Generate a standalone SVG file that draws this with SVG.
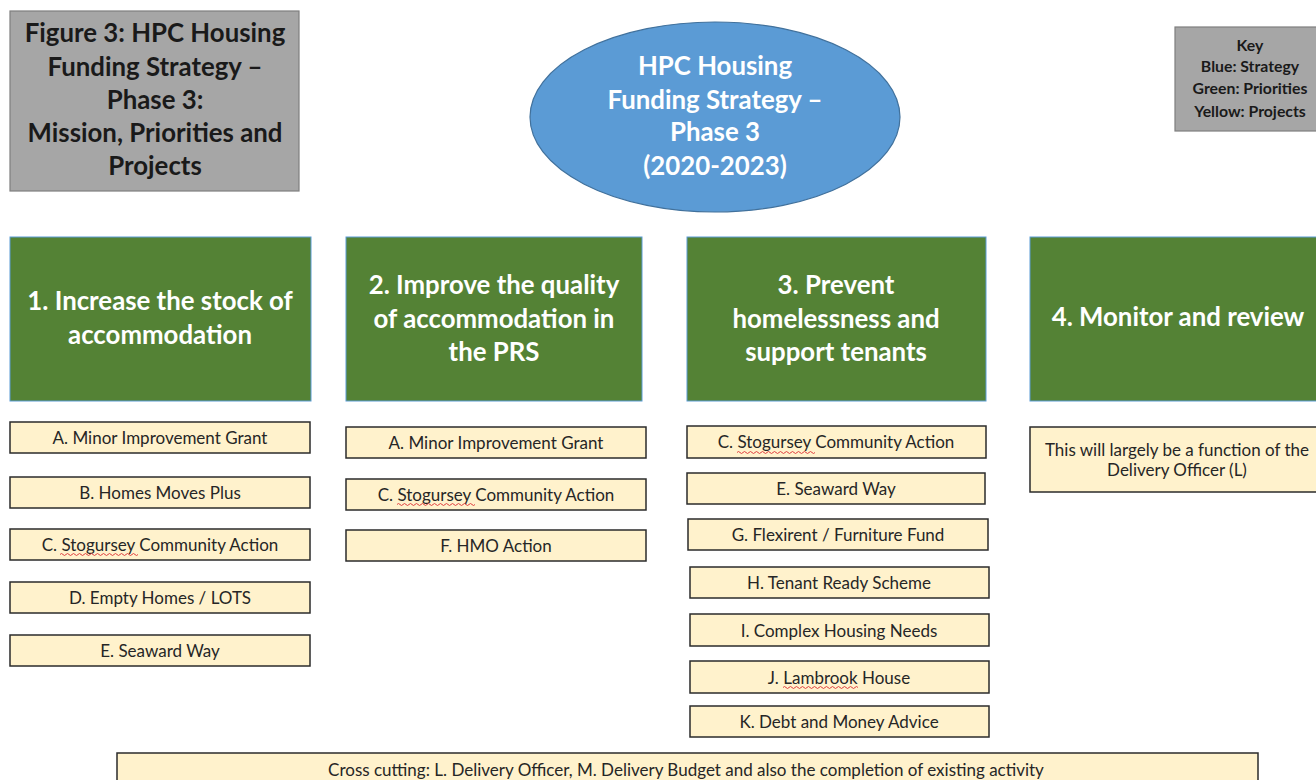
<svg xmlns="http://www.w3.org/2000/svg" width="1316" height="780" viewBox="0 0 1316 780">
<style>
text{font-family:"Lato","Open Sans","Liberation Sans",sans-serif;text-anchor:middle}
.gray{fill:#a6a6a6;stroke:#7f7f7f;stroke-width:1.2}
.t{font-size:25.8px;font-weight:bold;fill:#1a1a1a}
.k{font-size:15.8px;font-weight:bold;fill:#1a1a1a}
.w{font-size:25.8px;font-weight:bold;fill:#ffffff}
.green{fill:#548235;stroke:#5b9bd5;stroke-width:1}
.yel{fill:#fff2cc;stroke:#2b2b2b;stroke-width:1.5}
.y{font-size:17px;fill:#262626}
.sq{fill:none;stroke:#e04040;stroke-width:1}
</style>
<rect width="1316" height="780" fill="#ffffff"/>
<g id="title">
<rect class="gray" x="10" y="11" width="289" height="180"/>
<text class="t" x="155" y="42">Figure 3: HPC Housing</text>
<text class="t" x="155" y="76">Funding Strategy –</text>
<text class="t" x="155" y="109">Phase 3:</text>
<text class="t" x="155" y="142">Mission, Priorities and</text>
<text class="t" x="155" y="175">Projects</text>
</g>
<g id="strategy">
<ellipse cx="715" cy="117" rx="185" ry="95" fill="#5b9bd5" stroke="#41719c" stroke-width="1.2"/>
<text class="w" x="715" y="75">HPC Housing</text>
<text class="w" x="715" y="109">Funding Strategy –</text>
<text class="w" x="715" y="141">Phase 3</text>
<text class="w" x="715" y="175">(2020-2023)</text>
</g>
<g id="key">
<rect class="gray" x="1175" y="27" width="145" height="104"/>
<text class="k" x="1250" y="51">Key</text>
<text class="k" x="1250" y="72">Blue: Strategy</text>
<text class="k" x="1250" y="94">Green: Priorities</text>
<text class="k" x="1250" y="117">Yellow: Projects</text>
</g>
<g id="p1">
<rect class="green" x="10" y="237" width="301" height="164"/>
<text class="w" x="160" y="310">1. Increase the stock of</text>
<text class="w" x="160" y="344">accommodation</text>
</g>
<g id="p2">
<rect class="green" x="346" y="237" width="296" height="164"/>
<text class="w" x="494" y="294">2. Improve the quality</text>
<text class="w" x="494" y="328">of accommodation in</text>
<text class="w" x="494" y="361">the PRS</text>
</g>
<g id="p3">
<rect class="green" x="687" y="237" width="299" height="164"/>
<text class="w" x="836" y="294">3. Prevent</text>
<text class="w" x="836" y="328">homelessness and</text>
<text class="w" x="836" y="361">support tenants</text>
</g>
<g id="p4">
<rect class="green" x="1030" y="237" width="296" height="164"/>
<text class="w" x="1178" y="326">4. Monitor and review</text>
</g>
<g id="c1a"><rect class="yel" x="10" y="422" width="300" height="31"/><text class="y" x="160" y="444">A. Minor Improvement Grant</text></g>
<g id="c1b"><rect class="yel" x="10" y="477" width="300" height="31"/><text class="y" x="160" y="499">B. Homes Moves Plus</text></g>
<g id="c1c"><rect class="yel" x="10" y="529" width="300" height="31"/><text class="y" x="160" y="551">C. Stogursey Community Action</text><path class="sq" d="M60 554.5 q1.5 -2 3 0 t3 0 t3 0 t3 0 t3 0 t3 0 t3 0 t3 0 t3 0 t3 0 t3 0 t3 0 t3 0 t3 0 t3 0 t3 0 t3 0 t3 0 t3 0 t3 0 t3 0 t3 0 t3 0 t3 0 t3 0 t3 0"/></g>
<g id="c1d"><rect class="yel" x="10" y="582" width="300" height="31"/><text class="y" x="160" y="604">D. Empty Homes / LOTS</text></g>
<g id="c1e"><rect class="yel" x="10" y="635" width="300" height="31"/><text class="y" x="160" y="657">E. Seaward Way</text></g>
<g id="c2a"><rect class="yel" x="346" y="427" width="300" height="31"/><text class="y" x="496" y="449">A. Minor Improvement Grant</text></g>
<g id="c2c"><rect class="yel" x="346" y="479" width="300" height="31"/><text class="y" x="496" y="501">C. Stogursey Community Action</text><path class="sq" d="M397 504.5 q1.5 -2 3 0 t3 0 t3 0 t3 0 t3 0 t3 0 t3 0 t3 0 t3 0 t3 0 t3 0 t3 0 t3 0 t3 0 t3 0 t3 0 t3 0 t3 0 t3 0 t3 0 t3 0 t3 0 t3 0 t3 0 t3 0 t3 0"/></g>
<g id="c2f"><rect class="yel" x="346" y="530" width="300" height="31"/><text class="y" x="496" y="552">F. HMO Action</text></g>
<g id="c3c"><rect class="yel" x="687" y="426" width="299" height="32"/><text class="y" x="836" y="448">C. Stogursey Community Action</text><path class="sq" d="M737 452.5 q1.5 -2 3 0 t3 0 t3 0 t3 0 t3 0 t3 0 t3 0 t3 0 t3 0 t3 0 t3 0 t3 0 t3 0 t3 0 t3 0 t3 0 t3 0 t3 0 t3 0 t3 0 t3 0 t3 0 t3 0 t3 0 t3 0 t3 0"/></g>
<g id="c3e"><rect class="yel" x="687" y="473" width="298" height="31"/><text class="y" x="836" y="495">E. Seaward Way</text></g>
<g id="c3g"><rect class="yel" x="688" y="519" width="300" height="31"/><text class="y" x="838" y="541">G. Flexirent / Furniture Fund</text></g>
<g id="c3h"><rect class="yel" x="690" y="567" width="299" height="31"/><text class="y" x="839" y="589">H. Tenant Ready Scheme</text></g>
<g id="c3i"><rect class="yel" x="690" y="614" width="299" height="32"/><text class="y" x="839" y="637">I. Complex Housing Needs</text></g>
<g id="c3j"><rect class="yel" x="690" y="661" width="299" height="32"/><text class="y" x="839" y="684">J. Lambrook House</text><path class="sq" d="M783 687.5 q1.5 -2 3 0 t3 0 t3 0 t3 0 t3 0 t3 0 t3 0 t3 0 t3 0 t3 0 t3 0 t3 0 t3 0 t3 0 t3 0 t3 0 t3 0 t3 0 t3 0 t3 0 t3 0 t3 0 t3 0 t3 0 t3 0"/></g>
<g id="c3k"><rect class="yel" x="690" y="706" width="299" height="31"/><text class="y" x="839" y="728">K. Debt and Money Advice</text></g>
<g id="c4"><rect class="yel" x="1030" y="427" width="296" height="65"/><text class="y" x="1177" y="456">This will largely be a function of the</text><text class="y" x="1177" y="476">Delivery Officer (L)</text></g>
<g id="cross"><rect class="yel" x="117" y="753" width="1141" height="40"/><text class="y" x="686" y="776">Cross cutting: L. Delivery Officer,  M. Delivery Budget and also the completion of existing activity</text></g>
<g id="connectors"></g>
</svg>
